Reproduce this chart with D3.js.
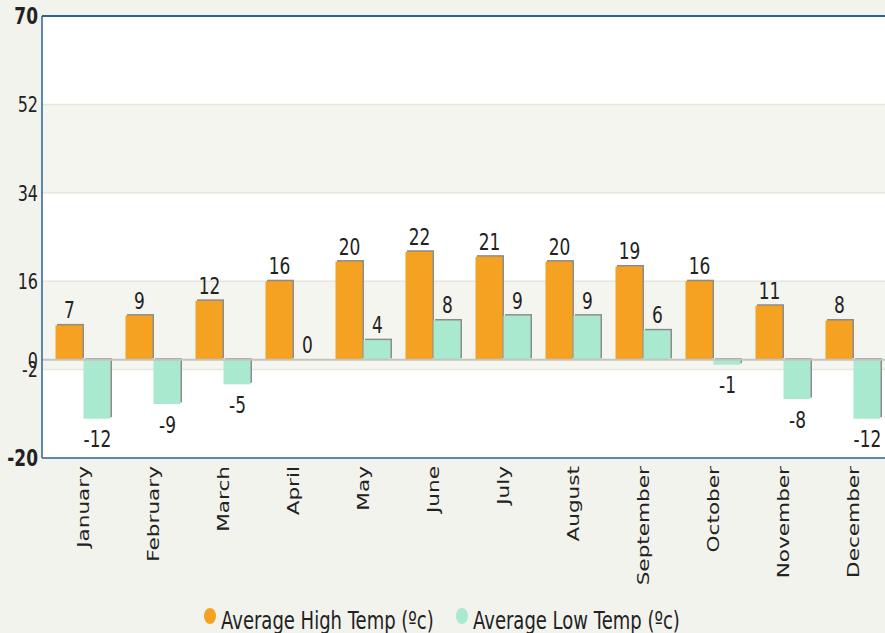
<!DOCTYPE html>
<html>
<head>
<meta charset="utf-8">
<style>
    body { margin: 0; background: #f3f3ee; }
    svg { display: block; font-family: "DejaVu Sans", Verdana, sans-serif; }
</style>
</head>
<body>
<svg width="885" height="633"></svg>
<script src="https://d3js.org/d3.v7.min.js"></script>
<script>
    let months = ["January", "February", "March", "April", "May", "June",
        "July", "August", "September", "October", "November", "December"];
    let highTemps = [7, 9, 12, 16, 20, 22, 21, 20, 19, 16, 11, 8];
    let lowTemps = [-12, -9, -5, 0, 4, 8, 9, 9, 6, -1, -8, -12];
    let yTicks = [70, 52, 34, 16, 0, -2, -20];
    let seriesNames = ["Average High Temp (ºc)", "Average Low Temp (ºc)"];
    let seriesColors = ["#f5a222", "#a8e9cf"];

    let svg = d3.select("svg");
    let plotLeft = 42, plotTop = 16, plotBottom = 458, plotRight = 892;
    let stretch = 1.35; // the original glyphs are drawn tall

    let y = d3.scaleLinear().domain([-20, 70]).range([plotBottom, plotTop]);
    let x = d3.scaleBand().domain(months)
        .range([48.5, 888.5])
        .paddingInner(0.2)
        .paddingOuter(0.1);
    let xSub = d3.scaleBand().domain([0, 1]).range([0, x.bandwidth()]);

    // plot background
    svg.append("rect")
        .attr("x", plotLeft).attr("y", plotTop)
        .attr("width", plotRight - plotLeft).attr("height", plotBottom - plotTop)
        .attr("fill", "#ffffff");

    let bands = [[52, 34], [16, -2]];
    svg.selectAll(".band").data(bands).join("rect")
        .attr("x", plotLeft).attr("width", plotRight - plotLeft)
        .attr("y", d => y(d[0]))
        .attr("height", d => y(d[1]) - y(d[0]))
        .attr("fill", "#f5f5f0");

    svg.selectAll(".grid").data(yTicks.filter(t => t != 0 && t != 70 && t != -20)).join("line")
        .attr("x1", plotLeft).attr("x2", plotRight)
        .attr("y1", d => y(d)).attr("y2", d => y(d))
        .attr("stroke", "#e6e6dc").attr("stroke-width", 1.5);

    // bars
    let series = [highTemps, lowTemps];
    series.forEach((vals, s) => {
        let g = svg.append("g");
        let bx = (d, i) => x(months[i]) + xSub(s);
        let by = d => Math.min(y(d), y(0));
        let bh = d => Math.abs(y(d) - y(0));
        g.selectAll(".shadow").data(vals).join("rect")
            .attr("x", (d, i) => bx(d, i) + 1.5)
            .attr("y", d => by(d) - 1.5)
            .attr("width", xSub.bandwidth() - 1)
            .attr("height", d => bh(d))
            .attr("fill", "#8c8c8c");
        g.selectAll(".bar").data(vals).join("rect")
            .attr("x", (d, i) => bx(d, i))
            .attr("y", d => by(d))
            .attr("width", xSub.bandwidth() - 1)
            .attr("height", d => bh(d))
            .attr("fill", seriesColors[s]);
    });

    // zero line
    svg.append("line")
        .attr("x1", plotLeft).attr("x2", plotRight)
        .attr("y1", y(0)).attr("y2", y(0))
        .attr("stroke", "#c4c4be").attr("stroke-width", 2);

    // borders
    svg.append("line").attr("x1", plotLeft).attr("x2", plotRight).attr("y1", plotTop).attr("y2", plotTop)
        .attr("stroke", "#2d6193").attr("stroke-width", 2);
    svg.append("line").attr("x1", plotLeft).attr("x2", plotRight).attr("y1", plotBottom).attr("y2", plotBottom)
        .attr("stroke", "#2d6193").attr("stroke-width", 1.5);
    svg.append("line").attr("x1", plotLeft).attr("x2", plotLeft).attr("y1", plotTop).attr("y2", plotBottom)
        .attr("stroke", "#2d6193").attr("stroke-width", 1.5);

    function tallText(px, py, str, size, anchor, weight) {
        let g = svg.append("g").attr("transform", `translate(${px},${py}) scale(1,${stretch})`);
        return g.append("text")
            .attr("text-anchor", anchor)
            .attr("font-size", size)
            .attr("font-weight", weight || "normal")
            .attr("fill", "#222")
            .text(str);
    }

    // y tick labels (0 and -2 sit on top of each other, as in the original)
    yTicks.forEach(t => {
        let bold = (t == 70 || t == -20);
        tallText(38, y(t), t, bold ? 17 : 16, "end", bold ? "bold" : "normal")
            .attr("dy", "0.36em");
    });

    // value labels
    series.forEach((vals, s) => {
        vals.forEach((d, i) => {
            let cx = x(months[i]) + xSub(s) + xSub.bandwidth() / 2;
            if (d >= 0) {
                tallText(cx, y(d) - 7, d, 17, "middle");
            } else {
                tallText(cx, y(d) + 12, d, 17, "middle").attr("dy", "0.73em");
            }
        });
    });

    // month labels
    months.forEach(m => {
        let cx = x(m) + x.bandwidth() / 2;
        svg.append("g")
            .attr("transform", `translate(${cx},${plotBottom + 8}) scale(1,${stretch}) rotate(-90)`)
            .append("text")
            .attr("text-anchor", "end")
            .attr("dy", "0.35em")
            .attr("font-size", 16)
            .attr("fill", "#222")
            .text(m);
    });

    // legend
    let legendX = [210, 462];
    seriesNames.forEach((name, s) => {
        svg.append("ellipse")
            .attr("cx", legendX[s]).attr("cy", 616)
            .attr("rx", 6).attr("ry", 8)
            .attr("fill", seriesColors[s]);
        tallText(legendX[s] + 11, 620, name, 18, "start").attr("dy", "0.36em");
    });
</script>
</body>
</html>
